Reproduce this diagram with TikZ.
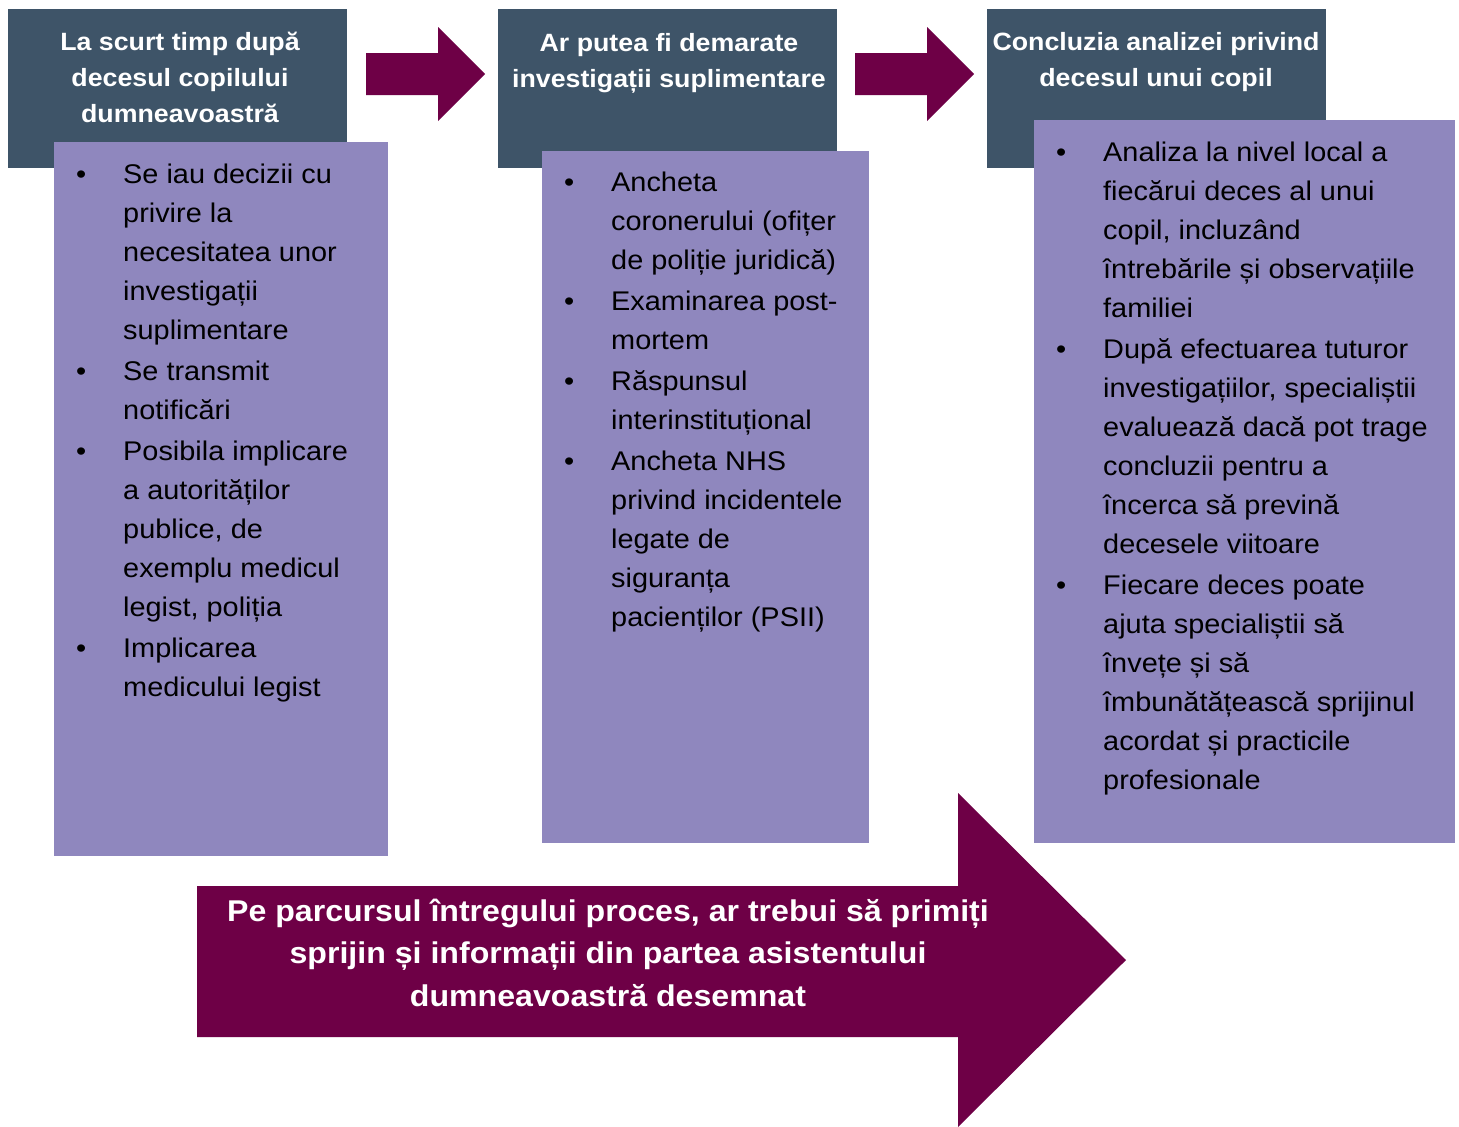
\documentclass[tikz,border=0pt]{standalone}
\usepackage{fontspec}
\setmainfont{Liberation Sans}[FakeStretch=1.07]
\usepackage{array}
\definecolor{hdr}{HTML}{3E5468}
\definecolor{lav}{HTML}{8F87BE}
\definecolor{plum}{HTML}{6E0046}
\newcommand{\bul}{\makebox[47pt][l]{•}}
\newcommand{\nob}{\makebox[47pt][l]{}}
\begin{document}
\begin{tikzpicture}[x=1pt,y=-1pt,
  hdrbox/.style={fill=hdr,draw=none,inner sep=0pt,anchor=north west},
  lavbox/.style={fill=lav,draw=none,inner sep=0pt,anchor=north west},
  hdrtext/.style={text=white,inner sep=0pt,anchor=base,font=\bfseries\fontsize{25}{36}\selectfont},
  listtext/.style={text=black,inner sep=0pt,anchor=base west,font=\fontsize{27}{39.1}\selectfont},
  bigtext/.style={text=white,inner sep=0pt,anchor=base,font=\bfseries\fontsize{30}{42.5}\selectfont},
  blockarrow/.style={fill=plum,draw=none}]
\useasboundingbox (0,0) rectangle (1459,1127);
\fill[white] (0,0) rectangle (1459,1127);

% header boxes
\node[hdrbox,minimum width=339pt,minimum height=159pt] (h1) at (8,9) {};
\node[hdrbox,minimum width=339pt,minimum height=159pt] (h2) at (498,9) {};
\node[hdrbox,minimum width=339pt,minimum height=159pt] (h3) at (987,9) {};

% lavender boxes
\node[lavbox,minimum width=334pt,minimum height=714pt] (p1) at (54,142) {};
\node[lavbox,minimum width=327pt,minimum height=692pt] (p2) at (542,151) {};
\node[lavbox,minimum width=421pt,minimum height=723pt] (p3) at (1034,120) {};

% small arrows
\fill[blockarrow] (366,53) -- (438,53) -- (438,27) -- (485,74) -- (438,121) -- (438,95) -- (366,95) -- cycle;
\fill[blockarrow] (855,53) -- (927,53) -- (927,27) -- (974,74) -- (927,121) -- (927,95) -- (855,95) -- cycle;

% big arrow
\fill[blockarrow] (197,886) -- (958,886) -- (958,793) -- (1126,960) -- (958,1127) -- (958,1037) -- (197,1037) -- cycle;

% header texts
\node[hdrtext] (t1) at (180,50) {\begin{tabular}[t]{@{}c@{}}La scurt timp după\\decesul copilului\\dumneavoastră\end{tabular}};
\node[hdrtext] (t2) at (669,51) {\begin{tabular}[t]{@{}c@{}}Ar putea fi demarate\\investigații suplimentare\end{tabular}};
\node[hdrtext] (t3) at (1156,50) {\begin{tabular}[t]{@{}c@{}}Concluzia analizei privind\\decesul unui copil\end{tabular}};

% lists
\node[listtext] (l1) at (76,183) {\begin{tabular}[t]{@{}l@{}}
\bul Se iau decizii cu\\
\nob privire la\\
\nob necesitatea unor\\
\nob investigații\\
\nob suplimentare\\[1.8pt]
\bul Se transmit\\
\nob notificări\\[1.8pt]
\bul Posibila implicare\\
\nob a autorităților\\
\nob publice, de\\
\nob exemplu medicul\\
\nob legist, poliția\\[1.8pt]
\bul Implicarea\\
\nob medicului legist
\end{tabular}};

\node[listtext] (l2) at (564,191) {\begin{tabular}[t]{@{}l@{}}
\bul Ancheta\\
\nob coronerului (ofițer\\
\nob de poliție juridică)\\[1.8pt]
\bul Examinarea post-\\
\nob mortem\\[1.8pt]
\bul Răspunsul\\
\nob interinstituțional\\[1.8pt]
\bul Ancheta NHS\\
\nob privind incidentele\\
\nob legate de\\
\nob siguranța\\
\nob pacienților (PSII)
\end{tabular}};

\node[listtext] (l3) at (1056,161) {\begin{tabular}[t]{@{}l@{}}
\bul Analiza la nivel local a\\
\nob fiecărui deces al unui\\
\nob copil, incluzând\\
\nob întrebările și observațiile\\
\nob familiei\\[1.5pt]
\bul După efectuarea tuturor\\
\nob investigațiilor, specialiștii\\
\nob evaluează dacă pot trage\\
\nob concluzii pentru a\\
\nob încerca să prevină\\
\nob decesele viitoare\\[1.5pt]
\bul Fiecare deces poate\\
\nob ajuta specialiștii să\\
\nob învețe și să\\
\nob îmbunătățească sprijinul\\
\nob acordat și practicile\\
\nob profesionale
\end{tabular}};

% bottom text
\node[bigtext] (bt) at (608,921) {\begin{tabular}[t]{@{}c@{}}Pe parcursul întregului proces, ar trebui să primiți\\sprijin și informații din partea asistentului\\dumneavoastră desemnat\end{tabular}};
\end{tikzpicture}
\end{document}
